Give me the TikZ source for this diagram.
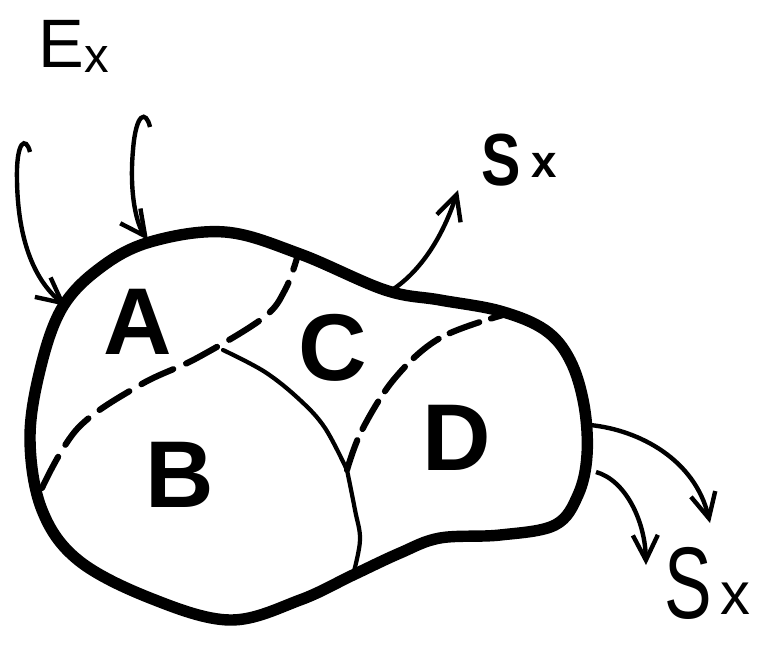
\documentclass[tikz,border=0pt]{standalone}
\usepackage{fontspec}
\setmainfont{Liberation Sans}
\usetikzlibrary{arrows.meta}

\begin{document}
\begin{tikzpicture}[x=0.02cm, y=-0.02cm,
        outline/.style={line width=6.5pt, line join=round},
        divider/.style={line width=3.5pt, line cap=round, dash pattern=on 20pt off 8pt},
        border/.style={line width=2.4pt, line cap=round},
        flow/.style={line width=2.5pt, -{Straight Barb[length=5mm, width=5mm, line width=2.5pt]}},
        region/.style={font=\bfseries\fontsize{54}{54}\selectfont, inner sep=0pt},
        tag/.style={anchor=base west, inner sep=0pt}
    ]
    \useasboundingbox (0,0) rectangle (766,650);

    \draw[outline] plot[smooth cycle, tension=0.6] coordinates {
        (62,308) (100,268) (150,242) (225,232) (300,254) (385,290) (440,300)
        (500,311) (545,330) (570,360) (584,405) (587,455) (578,495) (555,525)
        (500,535) (440,538) (400,553) (353,575) (300,600) (230,620) (150,598)
        (78,560) (42,510) (30,440) (40,370)};

    \coordinate (J1) at (223,350);
    \coordinate (J2) at (347,470);

    \draw[divider] plot[smooth, tension=0.6] coordinates {
        (42,488) (78,428) (140,385) (197,358) (263,318) (285,290) (297,258)};
    \draw[divider, dash pattern=on 18pt off 7pt] plot[smooth, tension=0.6] coordinates {
        (J2) (362,430) (395,378) (440,338) (503,315)};
    \draw[border] plot[smooth, tension=0.6] coordinates {
        (J1) (265,372) (300,400) (325,428) (J2)};
    \draw[border] plot[smooth, tension=0.6] coordinates {
        (J2) (355,510) (360,540) (353,575)};

    \node[region] (A) at (138,322) {A};
    \node[region] (B) at (180,475) {B};
    \node[region] (C) at (333,348) {C};
    \node[region] (D) at (457,438) {D};

    \node[tag, font=\fontsize{39}{39}\selectfont] (Ex) at (38,67)
        {E\raisebox{-3pt}{\fontsize{28}{28}\selectfont x}};
    \node[tag, font=\bfseries\fontsize{42}{42}\selectfont] (Sx1) at (481,185)
        {\scalebox{0.8}[1]{S}\hspace{6pt}\raisebox{4pt}{\fontsize{26}{26}\selectfont x}};
    \node[tag, font=\fontsize{58}{58}\selectfont] (Sx2) at (664,618)
        {\scalebox{0.7}[1]{S}\hspace{5pt}\raisebox{2pt}{\fontsize{34}{34}\selectfont x}};

    \coordinate (in1) at (30,152);
    \coordinate (hit1) at (66,306);
    \coordinate (in2) at (150,127);
    \coordinate (hit2) at (148,240);
    \coordinate (out1) at (392,290);
    \coordinate (tip1) at (458,190);
    \coordinate (out2) at (590,425);
    \coordinate (tip2) at (710,523);
    \coordinate (out3) at (596,472);
    \coordinate (tip3) at (646,565);

    \draw[flow] (in1) .. controls (26,136) and (16,140) .. (17,180)
        .. controls (18,250) and (40,285) .. (hit1);
    \draw[flow] (in2) .. controls (146,110) and (136,112) .. (133,150)
        .. controls (129,195) and (137,225) .. (hit2);
    \draw[flow] (out1) .. controls (415,275) and (440,245) .. (tip1);
    \draw[flow] (out2) .. controls (640,430) and (695,460) .. (tip2);
    \draw[flow] (out3) .. controls (625,480) and (645,520) .. (tip3);
\end{tikzpicture}
\end{document}
